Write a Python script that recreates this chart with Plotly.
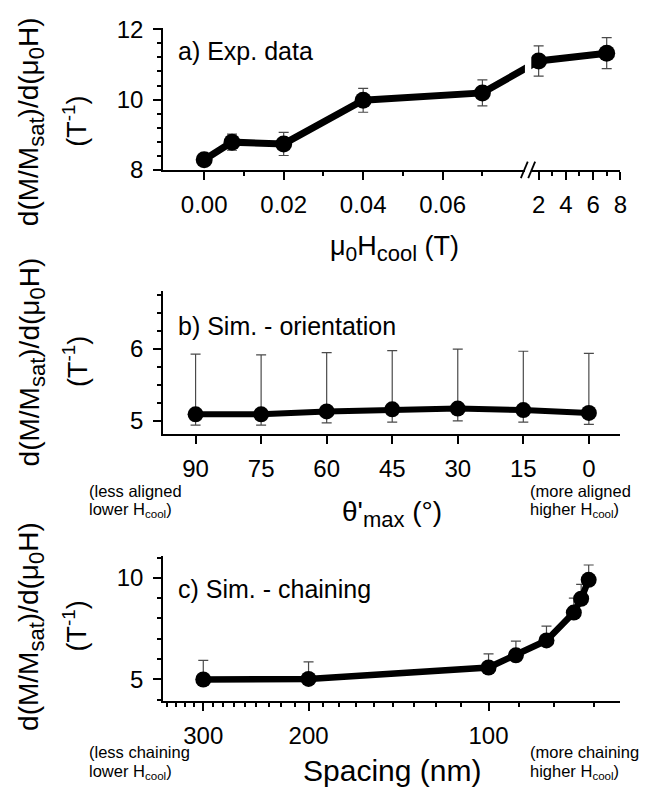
import numpy as np
import plotly.graph_objects as go

W, H = 657, 802

# ---------------- data ----------------
# a) experimental data
a_field = [0.0, 0.007, 0.02, 0.04, 0.07, 2.0, 7.0]
a_value = [8.29, 8.79, 8.74, 9.98, 10.19, 11.10, 11.32]
a_err = [0.12, 0.23, 0.33, 0.34, 0.37, 0.43, 0.44]
a_major_low = [0.0, 0.02, 0.04, 0.06]
a_major_low_text = ["0.00", "0.02", "0.04", "0.06"]
a_minor_low = [0.01, 0.03, 0.05, 0.07]
a_major_high = [2, 4, 6, 8]
a_major_high_text = ["2", "4", "6", "8"]
a_minor_high = [3, 5, 7]

# b) simulation - orientation
b_theta = [90, 75, 60, 45, 30, 15, 0]
b_value = [5.09, 5.09, 5.13, 5.16, 5.17, 5.15, 5.11]
b_err_plus = [0.84, 0.83, 0.82, 0.82, 0.83, 0.82, 0.83]
b_err_minus = [0.15, 0.15, 0.16, 0.18, 0.17, 0.17, 0.16]
b_ticks = [90, 75, 60, 45, 30, 15, 0]

# c) simulation - chaining
c_spacing = [300, 200, 100, 90, 80, 72, 70, 68]
c_value = [5.00, 5.03, 5.59, 6.19, 6.92, 8.29, 8.97, 9.90]
c_err_plus = [0.94, 0.84, 0.67, 0.70, 0.70, 0.71, 0.71, 0.73]
c_ticks = [100, 200, 300]

# ---------------- helpers ----------------
def px_x(p):
    return p / W

def px_y(p):
    return 1 - p / H

# broken x axis for panel a: low segment linear in T, high segment compressed
BREAK_AT = 0.075
HIGH_START = 0.08415
HIGH_SCALE = 0.003425


def a_pos(v):
    return v if v <= BREAK_AT else HIGH_START + (v - 2.0) * HIGH_SCALE


FONT = "Liberation Sans, Arial, sans-serif"
TICKFONT = dict(family=FONT, size=24, color="black")
ERRCOL = "#4a4a4a"

fig = go.Figure()

fig.add_trace(go.Scatter(
    x=[a_pos(v) for v in a_field], y=a_value,
    mode="lines+markers",
    line=dict(color="black", width=7),
    marker=dict(color="black", size=17),
    error_y=dict(type="data", array=a_err, color=ERRCOL, thickness=1.2, width=5),
    xaxis="x", yaxis="y", cliponaxis=False,
))

fig.add_trace(go.Scatter(
    x=b_theta, y=b_value,
    mode="lines+markers",
    line=dict(color="black", width=6),
    marker=dict(color="black", size=16),
    error_y=dict(type="data", symmetric=False, array=b_err_plus,
                 arrayminus=b_err_minus, color=ERRCOL, thickness=1.2, width=5),
    xaxis="x2", yaxis="y2", cliponaxis=False,
))

fig.add_trace(go.Scatter(
    x=c_spacing, y=c_value,
    mode="lines+markers",
    line=dict(color="black", width=6.5),
    marker=dict(color="black", size=16),
    error_y=dict(type="data", symmetric=False, array=c_err_plus,
                 arrayminus=[0] * len(c_err_plus), color=ERRCOL, thickness=1.2, width=5),
    xaxis="x3", yaxis="y3", cliponaxis=False,
))

common = dict(showline=True, linewidth=2, linecolor="black", ticks="outside",
              ticklen=8, tickwidth=2, tickcolor="black", showgrid=False,
              zeroline=False, mirror=False, tickfont=TICKFONT, ticklabelstandoff=5)
xcommon = dict(common, ticklabelstandoff=4)
minor_common = dict(ticks="outside", ticklen=4, tickwidth=1.5, tickcolor="black", showgrid=False)

xdom = [px_x(165), px_x(627)]

a_tickvals = [a_pos(v) for v in a_major_low] + [a_pos(v) for v in a_major_high]
a_ticktext = a_major_low_text + a_major_high_text
a_minorvals = [a_pos(v) for v in a_minor_low] + [a_pos(v) for v in a_minor_high]

fig.update_layout(
    width=W, height=H,
    margin=dict(l=0, r=0, t=0, b=0),
    paper_bgcolor="white", plot_bgcolor="white",
    showlegend=False,
    xaxis=dict(domain=xdom, anchor="y", range=[-0.0103, 0.1047],
               tickmode="array", tickvals=a_tickvals, ticktext=a_ticktext,
               minor=dict(tickmode="array", tickvals=a_minorvals, **minor_common),
               **xcommon),
    yaxis=dict(domain=[px_y(163), px_y(16)], anchor="x", range=[8, 12.05],
               tickmode="array", tickvals=[8, 10, 12],
               minor=dict(tick0=8, dtick=0.4, **minor_common), **common),
    xaxis2=dict(domain=xdom, anchor="y2", range=[97.4, -7.2],
                tickmode="array", tickvals=b_ticks, **xcommon),
    yaxis2=dict(domain=[px_y(436), px_y(288)], anchor="x2", range=[4.81, 6.81],
                tickmode="array", tickvals=[5, 6],
                minor=dict(tick0=5, dtick=0.25, **minor_common), **common),
    xaxis3=dict(domain=xdom, anchor="y3", type="log",
                range=[np.log10(350), np.log10(60.2)],
                tickmode="array", tickvals=c_ticks,
                minor=dict(tickmode="array",
                           tickvals=[m + k * 100 / 9 for m in (0, 100, 200, 300) for k in range(1, 9)
                                     if 60 < m + k * 100 / 9 < 350],
                           **minor_common),
                **xcommon),
    yaxis3=dict(domain=[px_y(711), px_y(562)], anchor="x3", range=[3.95, 11.05],
                tickmode="array", tickvals=[5, 10],
                minor=dict(tick0=5, dtick=1, **minor_common), **common),
)

# axis break for panel a
fig.add_shape(type="rect", xref="x", yref="y domain", x0=0.0807, x1=0.0823, y0=-0.03, y1=1.0,
              fillcolor="white", line=dict(width=0), layer="above")
for cx in (0.08054, 0.0824):
    fig.add_shape(type="line", xref="x", yref="y domain",
                  x0=cx - 0.00087, x1=cx + 0.00087, y0=-0.058, y1=0.058,
                  line=dict(color="black", width=1.8), layer="above")

ann = []

def note(text, x, y, size, xanchor="center", yanchor="middle", angle=0):
    ann.append(dict(text=text, x=px_x(x), y=px_y(y), xref="paper", yref="paper",
                    xanchor=xanchor, yanchor=yanchor, showarrow=False, textangle=angle,
                    font=dict(family=FONT, size=size, color="black")))


def sub(t, size):
    return "<sub><span style='font-size:%dpx'>%s</span></sub>" % (size, t)


ytitle1 = "d(M/M" + sub("sat", 22) + ")/d(μ" + sub("0", 22) + "H)"
ytitle2 = "(T<sup>-1</sup>)"
for cy in (113, 361, 634):
    note(ytitle1, 32, cy, 28, angle=-90)
    note(ytitle2, 76, cy, 27, angle=-90)

note("a) Exp. data", 178, 40, 25, xanchor="left")
note("b) Sim. - orientation", 178, 324, 25, xanchor="left")
note("c) Sim. - chaining", 178, 596, 25, xanchor="left")

note("μ" + sub("0", 21) + "H" + sub("cool", 22) + " (T)", 399, 244, 27)
note("θ'" + sub("max", 22) + " (°)", 396, 518, 28)
note("Spacing (nm)", 396, 783, 30)

for (l1, l2, x, y) in [("(less aligned", "lower H<sub>cool</sub>)", 88, 494),
                       ("(more aligned", "higher H<sub>cool</sub>)", 534, 494),
                       ("(less chaining", "lower H<sub>cool</sub>)", 88, 764),
                       ("(more chaining", "higher H<sub>cool</sub>)", 534, 764)]:
    note(l1, x, y, 16.5, xanchor="left")
    note(l2, x, y + 20, 16.5, xanchor="left")

fig.update_layout(annotations=ann)

fig.write_html("out.html", config={"displayModeBar": False},
               post_script="document.body.style.margin='0px';document.body.style.overflow='hidden';")
